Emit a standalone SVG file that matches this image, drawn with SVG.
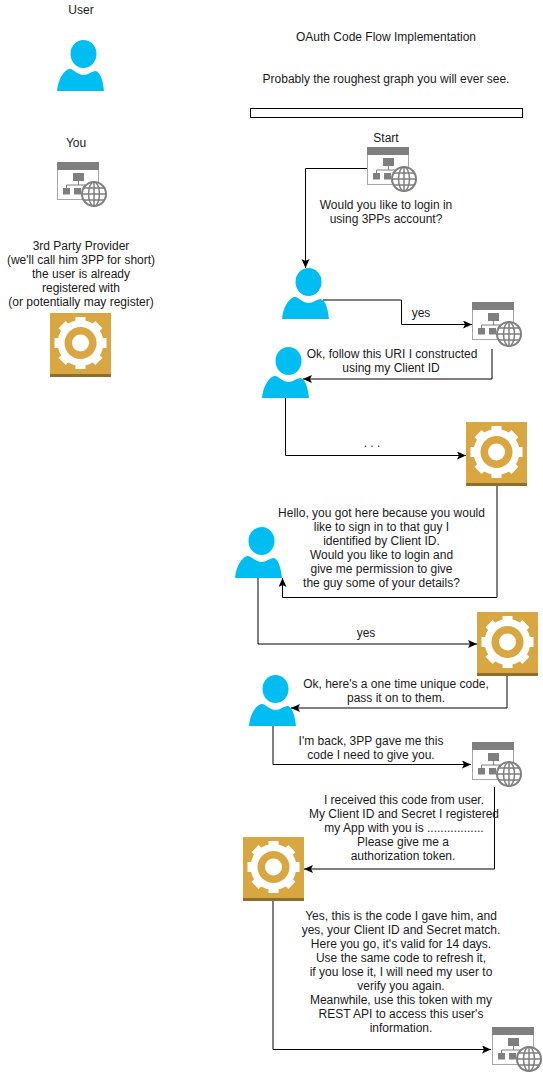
<svg xmlns="http://www.w3.org/2000/svg" width="543" height="1072" viewBox="0 0 543 1072">
<style>
text{font-family:"Liberation Sans",Arial,sans-serif;font-size:12px;fill:#1a1a1a;text-anchor:middle}
.c{fill:none;stroke:#000;stroke-width:1}
</style>
<defs>
<marker id="a" markerUnits="userSpaceOnUse" markerWidth="10" markerHeight="10" refX="9" refY="4" orient="auto"><path d="M0 0L9 4L0 8L2 4Z" fill="#000"/></marker>
<symbol id="user" width="47" height="51" viewBox="0 0 47 51" overflow="visible">
<ellipse cx="26.500" cy="14" rx="13" ry="14" fill="#00bef2"/>
<path d="M0 51C1 40 6 31 12 29C16 28 19 34 26 35C32 35 34 31 39 31C44 33 46 42 47 51Z" fill="#00bef2"/>
</symbol>
<symbol id="app" width="50" height="45" viewBox="0 0 50 45" overflow="visible">
<rect x="0.500" y="0.500" width="41" height="37" fill="#fff" stroke="#a6a6a6"/>
<rect x="0" y="0" width="42" height="8" fill="#7f7f7f"/>
<rect x="16" y="11" width="11" height="8" fill="#7f7f7f"/>
<path d="M21.500 19V23M9.500 27V23H28V27" fill="none" stroke="#7f7f7f"/>
<rect x="6" y="26" width="7" height="6.500" fill="#7f7f7f"/>
<rect x="17" y="26" width="7" height="6.500" fill="#7f7f7f"/>
<circle cx="37" cy="32" r="12" fill="#fff" stroke="#7f7f7f" stroke-width="2"/>
<ellipse cx="37" cy="32" rx="5.500" ry="12" fill="none" stroke="#7f7f7f" stroke-width="1.500"/>
<path d="M25 32H49M27 26H47M27 38H47M37 20V44" fill="none" stroke="#7f7f7f" stroke-width="1.500"/>
</symbol>
<symbol id="gear" width="61" height="64" viewBox="0 0 61 64" overflow="visible">
<rect width="61" height="64" fill="#d9a741"/>
<rect y="61" width="61" height="3" fill="#8f6d2a"/>
<g fill="#fff">
<circle cx="30.500" cy="30" r="23"/>
<rect x="25.500" y="4" width="10" height="52"/>
<rect x="25.500" y="4" width="10" height="52" transform="rotate(45 30.500 30)"/>
<rect x="25.500" y="4" width="10" height="52" transform="rotate(90 30.500 30)"/>
<rect x="25.500" y="4" width="10" height="52" transform="rotate(135 30.500 30)"/>
</g>
<circle cx="30.500" cy="30" r="16" fill="#d9a741"/>
<circle cx="30.500" cy="30" r="8.500" fill="#fff"/>
</symbol>
</defs>
<g id="connectors">
<path class="c" d="M367 168.500H305.500V268" marker-end="url(#a)"/>
<path class="c" d="M323 300H401.500V324.500H472" marker-end="url(#a)"/>
<path class="c" d="M492 349V379H303" marker-end="url(#a)"/>
<path class="c" d="M285.500 397V455.500H466" marker-end="url(#a)"/>
<path class="c" d="M497 486V597.500H282.500V578" marker-end="url(#a)"/>
<path class="c" d="M258 578V644H477" marker-end="url(#a)"/>
<path class="c" d="M507 676V708H291" marker-end="url(#a)"/>
<path class="c" d="M273 726V764.500H471" marker-end="url(#a)"/>
<path class="c" d="M494.500 787V869H304" marker-end="url(#a)"/>
<path class="c" d="M273 901V1049.500H491" marker-end="url(#a)"/>
</g>
<g id="title"><text x="386" y="41">OAuth Code Flow Implementation</text><text x="386" y="83">Probably the roughest graph you will ever see.</text></g>
<rect id="bar" x="250.500" y="108.500" width="272" height="9" fill="#fff" stroke="#000"/>
<g id="legend-user"><text x="81" y="14">User</text><use href="#user" x="57" y="40"/></g>
<g id="legend-you"><text x="76" y="147">You</text><use href="#app" x="57" y="162"/></g>
<g id="legend-3pp"><text x="81" y="250">3rd Party Provider</text><text x="81" y="264">(we'll call him 3PP for short)</text><text x="81" y="278">the user is already</text><text x="81" y="292">registered with</text><text x="81" y="306">(or potentially may register)</text><use href="#gear" x="50" y="313"/></g>
<g id="start"><text x="386" y="142">Start</text><use href="#app" x="367" y="147"/></g>
<g id="q1"><text x="386" y="209">Would you like to login in</text><text x="386" y="223">using 3PPs account?</text></g>
<g id="user1"><use href="#user" x="282" y="268"/></g>
<text x="421" y="317">yes</text>
<g id="app1"><use href="#app" x="472" y="302"/></g>
<g id="user2"><use href="#user" x="262" y="347"/></g>
<g id="m1"><text x="392" y="358">Ok, follow this URI I constructed</text><text x="391" y="372">using my Client ID</text></g>
<text x="372" y="447">. . .</text>
<g id="gear1"><use href="#gear" x="466" y="422"/></g>
<g id="m2"><text x="381.500" y="517">Hello, you got here because you would</text><text x="381.500" y="531">like to sign in to that guy I</text><text x="381.500" y="545">identified by Client ID.</text><text x="381.500" y="559">Would you like to login and</text><text x="381.500" y="573">give me permission to give</text><text x="381.500" y="587">the guy some of your details?</text></g>
<g id="user3"><use href="#user" x="235" y="527"/></g>
<text x="366" y="637">yes</text>
<g id="gear2"><use href="#gear" x="477" y="612"/></g>
<g id="m3"><text x="396" y="688">Ok, here's a one time unique code,</text><text x="396" y="702">pass it on to them.</text></g>
<g id="user4"><use href="#user" x="249" y="675"/></g>
<g id="m4"><text x="371" y="745">I'm back, 3PP gave me this</text><text x="371" y="759">code I need to give you.</text></g>
<g id="app2"><use href="#app" x="472" y="742"/></g>
<g id="m5"><text x="404" y="804">I received this code from user.</text><text x="404" y="818">My Client ID and Secret I registered</text><text x="404" y="832">my App with you is .................</text><text x="403" y="846">Please give me a</text><text x="403" y="860">authorization token.</text></g>
<g id="gear3"><use href="#gear" x="243" y="837"/></g>
<g id="m6"><text x="401" y="920">Yes, this is the code I gave him, and</text><text x="401" y="934">yes, your Client ID and Secret match.</text><text x="401" y="948">Here you go, it's valid for 14 days.</text><text x="401" y="962">Use the same code to refresh it,</text><text x="401" y="976">if you lose it, I will need my user to</text><text x="401" y="990">verify you again.</text><text x="401" y="1004">Meanwhile, use this token with my</text><text x="401" y="1018">REST API to access this user's</text><text x="401" y="1032">information.</text></g>
<g id="app3"><use href="#app" x="492" y="1027"/></g>
</svg>
